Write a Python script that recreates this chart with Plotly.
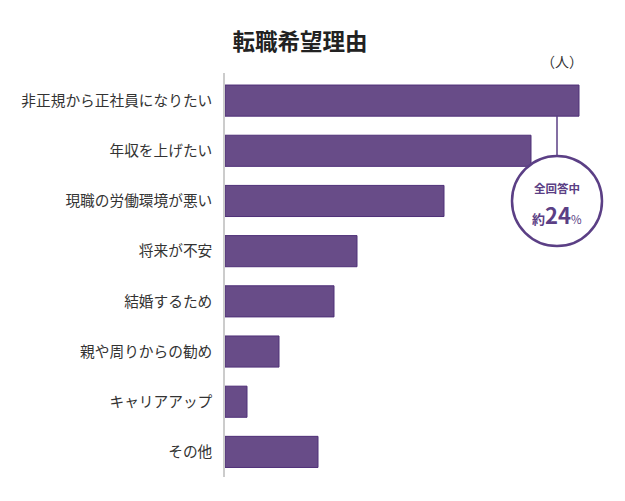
import plotly.graph_objects as go

# Data (unit: 人)
categories = [
    "非正規から正社員になりたい",
    "年収を上げたい",
    "現職の労働環境が悪い",
    "将来が不安",
    "結婚するため",
    "親や周りからの勧め",
    "キャリアアップ",
    "その他",
]
counts = [354, 306, 219, 132, 109, 54, 22, 93]

title_text = "転職希望理由"
unit_text = "（人）"
callout_top = "全回答中"
callout_value = "24"

FONT = "Noto Sans CJK JP"
BAR_FILL = "#684c88"
BAR_EDGE = "#4f3078"
ACCENT = "#5b3f85"

fig = go.Figure()

fig.add_trace(go.Bar(
    y=list(range(len(categories))),
    x=counts,
    orientation="h",
    marker=dict(color=BAR_FILL, line=dict(color=BAR_EDGE, width=1)),
    hoverinfo="x+text",
    text=categories,
    textposition="none",
))

# callout anchored to the top bar
cx = 332
cy = 2.0
fig.add_shape(type="line", xref="x", yref="y",
              x0=cx, x1=cx, y0=0.3, y1=1.12,
              line=dict(color=ACCENT, width=1.5), layer="above")
fig.add_shape(type="circle", xref="x", yref="y",
              xsizemode="pixel", ysizemode="pixel",
              xanchor=cx, yanchor=cy,
              x0=-45, x1=45, y0=-45, y1=45,
              fillcolor="white", line=dict(color=ACCENT, width=2.5), layer="above")

fig.add_annotation(x=cx, y=cy, xref="x", yref="y", yshift=13,
                   text="<b>" + callout_top + "</b>", showarrow=False,
                   font=dict(family=FONT, size=11.5, color=ACCENT))
fig.add_annotation(x=cx, y=cy, xref="x", yref="y", yshift=-13,
                   text="<span style='font-size:13px'><b>約</b></span><b>" + callout_value
                        + "</b><span style='font-size:11.5px'>%</span>",
                   showarrow=False,
                   font=dict(family=FONT, size=22, color=ACCENT))

fig.add_annotation(x=360, y=1.0, xref="x", yref="paper", yshift=0,
                   xanchor="right", yanchor="bottom",
                   text=unit_text, showarrow=False,
                   font=dict(family=FONT, size=14, color="#333333"))

fig.update_layout(
    width=625, height=501,
    margin=dict(l=225, r=0, t=73, b=24),
    paper_bgcolor="white", plot_bgcolor="white",
    title=dict(text="<b>" + title_text + "</b>", x=300 / 625, xanchor="center",
               y=1 - 42 / 501, yanchor="middle",
               font=dict(family=FONT, size=22.5, color="#222222")),
    bargap=0.38,
    showlegend=False,
    font=dict(family=FONT, color="#333333"),
)

fig.update_xaxes(range=[0, 400], showgrid=False, showticklabels=False,
                 zeroline=False, showline=False, fixedrange=True)
fig.update_yaxes(range=[len(categories) - 0.5, -0.55],
                 tickvals=list(range(len(categories))), ticktext=categories,
                 showgrid=False, zeroline=False,
                 showline=True, linecolor="#cccccc", linewidth=1.5,
                 ticks="", ticklabelstandoff=8,
                 tickfont=dict(family=FONT, size=14.7, color="#333333"),
                 fixedrange=True)

fig.write_html("out.html", config={"displayModeBar": False},
               post_script="document.body.style.margin='0';")
